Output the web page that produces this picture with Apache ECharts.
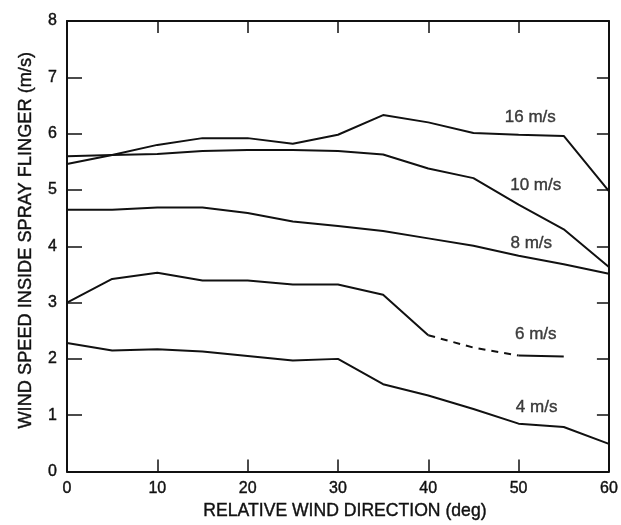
<!DOCTYPE html>
<html><head><meta charset="utf-8">
<script src="https://cdn.jsdelivr.net/npm/echarts@6/dist/echarts.min.js"></script>
<style>html,body{margin:0;padding:0;background:#fff}#c{width:621px;height:525px}</style>
</head><body><div id="c"></div>
<script>
var angles = [0,5,10,15,20,25,30,35,40,45,50,55,60];
var s16 = [5.46,5.62,5.8,5.92,5.92,5.82,5.98,6.33,6.2,6.01,5.98,5.96,4.98];
var s10 = [5.6,5.62,5.64,5.69,5.71,5.71,5.69,5.63,5.38,5.21,4.74,4.3,3.63];
var s8  = [4.65,4.65,4.69,4.69,4.59,4.44,4.36,4.27,4.14,4.01,3.83,3.68,3.51];
var s6  = [3.0,3.42,3.53,3.39,3.39,3.32,3.32,3.14,2.42,2.2,2.06,2.04,null];
var s4  = [2.28,2.15,2.17,2.13,2.05,1.97,2.0,1.55,1.35,1.11,0.85,0.79,0.49];
var xTicks = [0,10,20,30,40,50,60];
var yTicks = [0,1,2,3,4,5,6,7,8];
var curveLabels = ['16 m/s','10 m/s','8 m/s','6 m/s','4 m/s'];
var labelAt = [[51.3,6.29],[51.9,5.08],[51.4,4.05],[51.9,2.44],[52.0,1.14]];

function pairs(vals, from, to){
  var out=[];
  for(var i=from;i<=to;i++){ if(vals[i]!=null) out.push([angles[i], vals[i]]); }
  return out;
}
var FONT = 'Liberation Sans, Arial, Helvetica, sans-serif';
var ink = '#111';
var bold = {textBorderColor:ink, textBorderWidth:0.4};
function line(name, data, dashed){
  return {type:'line', name:name, data:data, symbol:'none', silent:true,
    lineStyle:{color:ink, width:2, type: dashed?[7,6]:'solid'}, animation:false};
}
var series = [
  line('16 m/s', pairs(s16,0,12)),
  line('10 m/s', pairs(s10,0,12)),
  line('8 m/s', pairs(s8,0,12)),
  line('6 m/s', pairs(s6,0,8)),
  line('6 m/s dashed', pairs(s6,8,10), true),
  line('6 m/s end', pairs(s6,10,11)),
  line('4 m/s', pairs(s4,0,12))
];
series.push({type:'scatter', silent:true, animation:false, symbolSize:0,
  data: labelAt.map(function(p,i){return {value:p, name:curveLabels[i]};}),
  label:Object.assign({show:true, position:'inside', formatter:function(p){return p.name;},
    color:ink, fontFamily:FONT, fontSize:17}, bold)
});
var axisLine = {show:true, onZero:false, lineStyle:{color:ink, width:2}};
var tickStyle = {color:ink, width:1.5};
var chart = echarts.init(document.getElementById('c'), null, {renderer:'canvas'});
chart.setOption({
  backgroundColor:'#fff',
  grid:{left:67, right:8, top:21, bottom:53, containLabel:false},
  xAxis:[
    {type:'value', min:xTicks[0], max:xTicks[xTicks.length-1], interval:10, position:'bottom',
     axisLine:axisLine, axisTick:{show:true, inside:true, length:12, lineStyle:tickStyle},
     axisLabel:Object.assign({color:ink, fontSize:16, fontFamily:FONT, margin:9}, bold),
     splitLine:{show:false},
     name:'RELATIVE WIND DIRECTION (deg)', nameLocation:'middle', nameGap:30,
     nameTextStyle:Object.assign({color:ink, fontSize:17.6, fontFamily:FONT, padding:[0,0,0,14]}, bold)},
    {type:'value', min:xTicks[0], max:xTicks[xTicks.length-1], interval:10, position:'top',
     axisLine:axisLine, axisTick:{show:true, inside:true, length:12, lineStyle:tickStyle},
     axisLabel:{show:false}, splitLine:{show:false}}
  ],
  yAxis:[
    {type:'value', min:yTicks[0], max:yTicks[yTicks.length-1], interval:1, position:'left',
     axisLine:axisLine, axisTick:{show:true, inside:true, length:15, lineStyle:tickStyle},
     axisLabel:Object.assign({color:ink, fontSize:16, fontFamily:FONT, margin:10}, bold),
     splitLine:{show:false},
     name:'WIND SPEED INSIDE SPRAY FLINGER (m/s)', nameLocation:'middle', nameGap:32, nameRotate:90,
     nameTextStyle:Object.assign({color:ink, fontSize:18.2, fontFamily:FONT, padding:[0,0,0,12]}, bold)},
    {type:'value', min:yTicks[0], max:yTicks[yTicks.length-1], interval:1, position:'right',
     axisLine:axisLine, axisTick:{show:true, inside:true, length:12, lineStyle:tickStyle},
     axisLabel:{show:false}, splitLine:{show:false}}
  ],
  series: series
});
</script></body></html>
